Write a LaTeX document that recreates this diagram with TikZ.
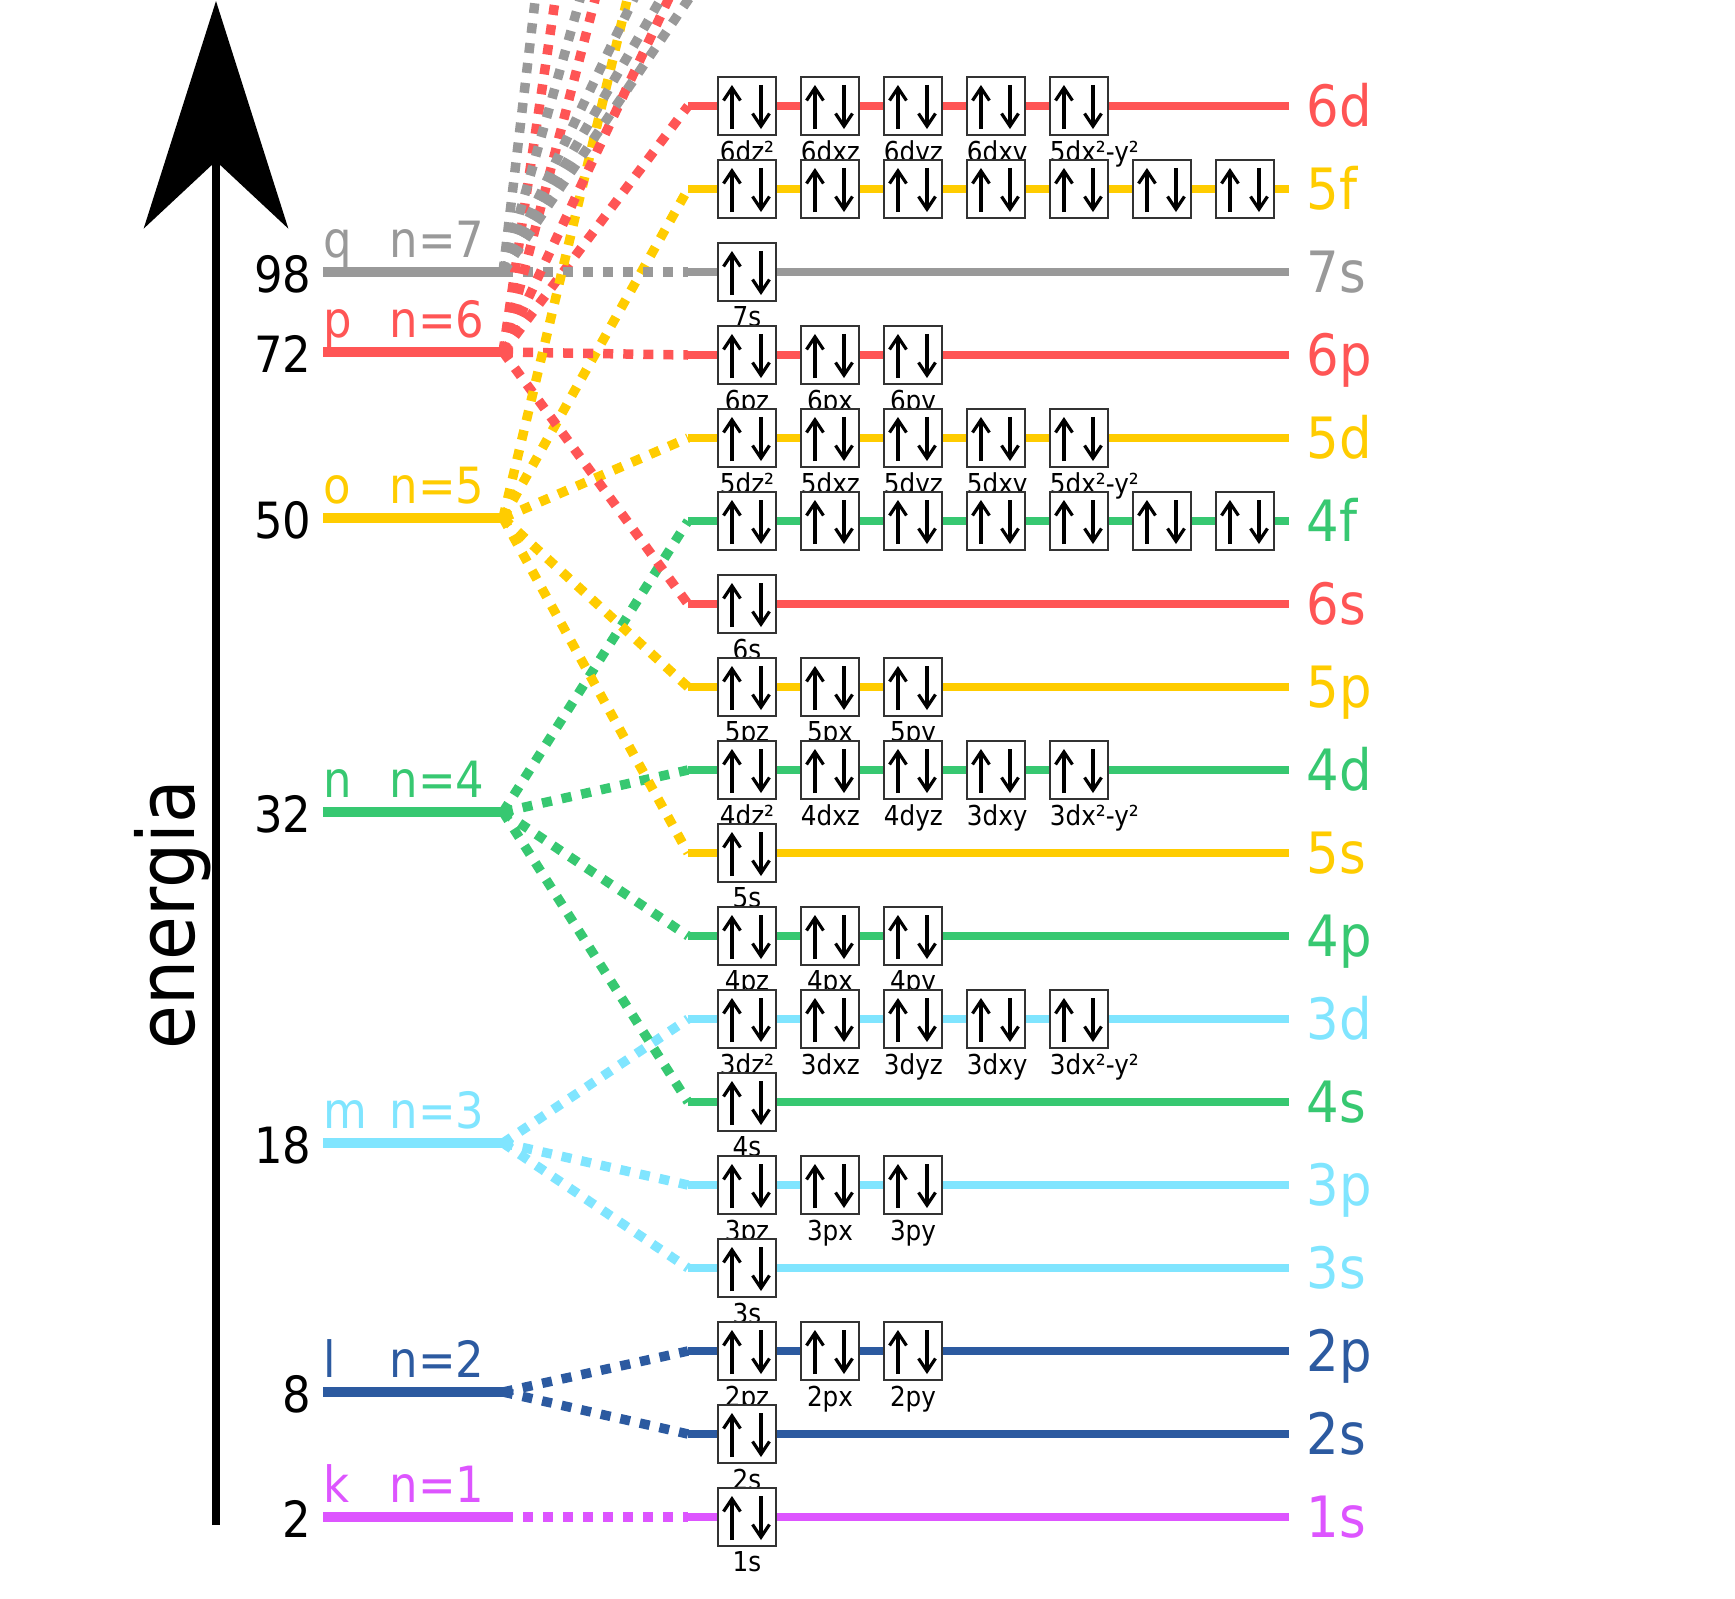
\documentclass[tikz,border=0pt]{standalone}
\usepackage{fontspec}
\setmainfont{DejaVu Sans Condensed}
\usetikzlibrary{arrows.meta}

\definecolor{cK}{RGB}{221,85,255}
\definecolor{cL}{RGB}{44,90,160}
\definecolor{cM}{RGB}{128,229,255}
\definecolor{cN}{RGB}{55,200,113}
\definecolor{cO}{RGB}{255,204,0}
\definecolor{cP}{RGB}{255,85,85}
\definecolor{cQ}{RGB}{153,153,153}

\tikzset{
  capa/.style={line width=2.8pt},
  nivel/.style={line width=2.3pt},
  salto/.style={line width=2.7pt, dash pattern=on 2.85pt off 2.85pt},
  caja/.style={draw=black!80, fill=white, line width=0.7pt,
    minimum width=0.58cm, minimum height=0.58cm, inner sep=0pt},
  espin/.style={line width=0.9pt, -{Straight Barb[length=3.6pt,width=4.8pt]}},
  orb/.style={font=\fontsize{7.8pt}{8pt}\selectfont, text width=0.58cm,
    align=center, inner sep=0pt, anchor=north},
  subcapa/.style={font=\fontsize{16.2pt}{18pt}\selectfont, anchor=base west, inner sep=0pt},
  capanom/.style={font=\fontsize{14.2pt}{16pt}\selectfont, anchor=base west, inner sep=0pt},
  numero/.style={font=\fontsize{14.2pt}{16pt}\selectfont, anchor=base east, inner sep=0pt},
}

% flechas de espin dentro de una caja
\newcommand{\espines}[1]{%
  \draw[espin] ([shift={(-0.15cm,-0.23cm)}]#1.center) -- ([shift={(-0.15cm,0.21cm)}]#1.center);
  \draw[espin] ([shift={(0.14cm,0.21cm)}]#1.center) -- ([shift={(0.14cm,-0.23cm)}]#1.center);}

\begin{document}
\begin{tikzpicture}[x=0.01cm, y=-0.01cm]
\useasboundingbox (0,0) rectangle (1735,1599);
\clip (0,0) rectangle (1735,1599);

% Eje de energia
\coordinate (eje-a) at (216,1525);
\coordinate (eje-b) at (216,1);
\draw[line width=2.4pt, -{Stealth[length=2.27cm, width=1.44cm, inset=0.67cm]}] (eje-a) -- (eje-b);
\node[rotate=90, font=\fontsize{22.5pt}{24pt}\selectfont] (energia) at (173,915) {energia};

% Niveles de las subcapas
\foreach \s/\y/\c in {6d/106/cP, 5f/189/cO, 7s/272/cQ, 6p/355/cP, 5d/438/cO, 4f/521/cN,
    6s/604/cP, 5p/687/cO, 4d/770/cN, 5s/853/cO, 4p/936/cN, 3d/1019/cM, 4s/1102/cN,
    3p/1185/cM, 3s/1268/cM, 2p/1351/cL, 2s/1434/cL, 1s/1517/cK} {
  \coordinate (niv-\s) at (688,\y);
  \coordinate (fin-\s) at (1289,\y);
  \draw[nivel, \c] (niv-\s) -- (fin-\s);
  \node[subcapa, text=\c] (sub-\s) at (1306,\y+20) {\s};
}

% Capas
\foreach \l/\n/\e/\y/\c in {k/1/2/1517/cK, l/2/8/1392/cL, m/3/18/1143/cM, n/4/32/812/cN,
    o/5/50/518/cO, p/6/72/352/cP, q/7/98/272/cQ} {
  \coordinate (ini-\n) at (323,\y);
  \coordinate (cap-\n) at (503,\y);
  \draw[capa, \c] (ini-\n) -- (cap-\n);
  \node[capanom, text=\c] (letra-\n) at (323,\y-15) {\l};
  \node[capanom, text=\c] (nom-\n) at (389,\y-15) {n=\n};
  \node[numero] (num-\n) at (312,\y+20) {\e};
}

% Saltos punteados
\foreach \a/\b/\c in {1/1s/cK, 2/2s/cL, 2/2p/cL, 3/3s/cM, 3/3p/cM, 3/3d/cM,
    4/4s/cN, 4/4p/cN, 4/4d/cN, 4/4f/cN, 5/5s/cO, 5/5p/cO, 5/5d/cO, 5/5f/cO,
    6/6s/cP, 6/6p/cP, 6/6d/cP, 7/7s/cQ}
  \draw[salto, \c] (cap-\a) -- (niv-\b);
% hacia arriba, fuera del dibujo
\foreach \k/\x in {1/651, 2/570, 3/621, 4/715, 5/547, 6/608, 7/681, 8/718, 9/756}
  \coordinate (fuera-\k) at (\x,-100);
\foreach \a/\k/\c in {5/1/cO, 6/2/cP, 6/3/cP, 6/4/cP, 7/5/cQ, 7/6/cQ, 7/7/cQ, 7/8/cQ, 7/9/cQ}
  \draw[salto, \c] (cap-\a) -- (fuera-\k);

% Orbitales con nombre
\foreach \s/\lista in {6d/{6dz²,6dxz,6dyz,6dxy,5dx²-y²}, 7s/{7s}, 6p/{6pz,6px,6py},
    5d/{5dz²,5dxz,5dyz,5dxy,5dx²-y²}, 6s/{6s}, 5p/{5pz,5px,5py},
    4d/{4dz²,4dxz,4dyz,3dxy,3dx²-y²}, 5s/{5s}, 4p/{4pz,4px,4py},
    3d/{3dz²,3dxz,3dyz,3dxy,3dx²-y²}, 4s/{4s}, 3p/{3pz,3px,3py}, 3s/{3s},
    2p/{2pz,2px,2py}, 2s/{2s}, 1s/{1s}}
  \foreach \et [count=\i] in \lista {
    \path (niv-\s) ++(83*\i-24,0) node[caja] (b-\s-\i) {};
    \espines{b-\s-\i}
    \node[orb] (et-\s-\i) at ([yshift=-0.04cm]b-\s-\i.south) {\mbox{\et}};
  }
% Orbitales f
\foreach \s in {5f,4f}
  \foreach \i in {1,...,7} {
    \path (niv-\s) ++(83*\i-24,0) node[caja] (b-\s-\i) {};
    \espines{b-\s-\i}
  }
\end{tikzpicture}
\end{document}
